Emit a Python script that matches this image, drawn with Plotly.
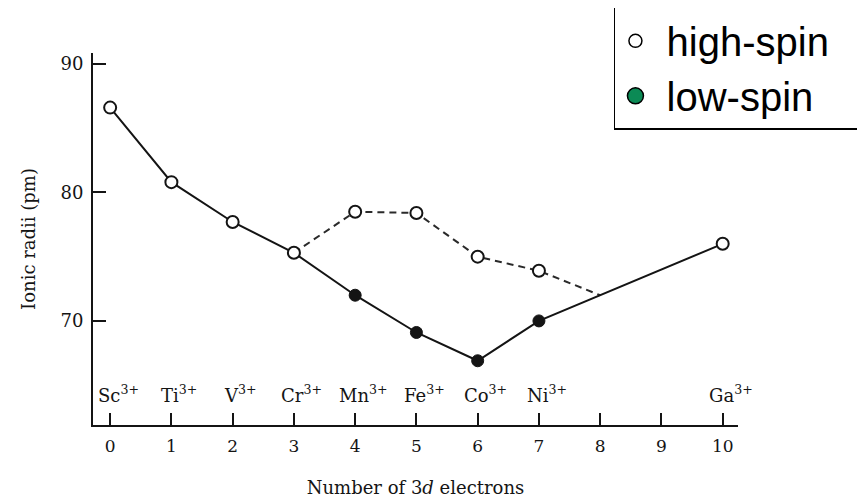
import plotly.graph_objects as go

# ---- data ----
ions = ["Sc", "Ti", "V", "Cr", "Mn", "Fe", "Co", "Ni", "Ga"]
n_3d = [0, 1, 2, 3, 4, 5, 6, 7, 10]
high_spin = [86.6, 80.8, 77.7, 75.3, 78.5, 78.4, 75.0, 73.9, 76.0]
low_spin = [None, None, None, None, 72.0, 69.1, 66.9, 70.0, None]
# dashed high-spin trend ends where it meets the solid curve
dash_end_x = [8]
dash_end_y = [72.0]
x_ticks = [0, 1, 2, 3, 4, 5, 6, 7, 8, 9, 10]
y_ticks = [70, 80, 90]

# solid curve: high-spin up to d3, low-spin d4-d7, then Ga
solid_x, solid_y = [], []
for d, hs, ls in zip(n_3d, high_spin, low_spin):
    solid_x.append(d)
    solid_y.append(ls if ls is not None else hs)

# dashed curve: from Cr (d3) through high-spin d4..d7 to the junction
dash_x = [d for d, ls in zip(n_3d, low_spin) if ls is not None]
dash_y = [hs for hs, ls in zip(high_spin, low_spin) if ls is not None]
dash_x = [n_3d[3]] + dash_x + dash_end_x
dash_y = [high_spin[3]] + dash_y + dash_end_y

ls_x = [d for d, ls in zip(n_3d, low_spin) if ls is not None]
ls_y = [ls for ls in low_spin if ls is not None]

INK = "#141414"
SERIF = "DejaVu Serif"

fig = go.Figure()
fig.add_trace(go.Scatter(x=dash_x, y=dash_y, mode="lines",
                         line=dict(color="#2a2a2a", width=2, dash="7px,5px"),
                         showlegend=False, hoverinfo="skip"))
fig.add_trace(go.Scatter(x=solid_x, y=solid_y, mode="lines",
                         line=dict(color=INK, width=2),
                         showlegend=False, hoverinfo="skip"))
fig.add_trace(go.Scatter(x=n_3d, y=high_spin, mode="markers",
                         marker=dict(symbol="circle", size=12, color="white",
                                     line=dict(color=INK, width=2)),
                         showlegend=False))
fig.add_trace(go.Scatter(x=ls_x, y=ls_y, mode="markers",
                         marker=dict(symbol="circle", size=12, color=INK,
                                     line=dict(color=INK, width=1)),
                         showlegend=False))

# legend entries
NB = "\u00a0"
fig.add_trace(go.Scatter(x=[None], y=[None], mode="markers",
                         name=NB + "high-spin" + NB * 3,
                         marker=dict(symbol="circle", size=13, color="white",
                                     line=dict(color="black", width=1.5))))
fig.add_trace(go.Scatter(x=[None], y=[None], mode="markers",
                         name=NB + "low-spin",
                         marker=dict(symbol="circle", size=16, color="#0b8a55",
                                     line=dict(color="black", width=1.5))))

# ion labels above the x axis
for d, ion in zip(n_3d, ions):
    fig.add_annotation(x=d, y=64.3, text=f"{ion}<sup>3+</sup>", showarrow=False,
                       xanchor="center", yanchor="middle", xshift=8,
                       font=dict(family=SERIF, size=18, color=INK))

# the page body adds an 8px offset, so the figure is 8px smaller on each axis
fig.update_layout(
    width=857, height=490,
    margin=dict(l=85, r=127, t=45, b=73, autoexpand=False),
    paper_bgcolor="white", plot_bgcolor="white",
    showlegend=True,
    legend=dict(x=1.203, xanchor="right", y=1.124, yanchor="top",
                bordercolor="black", borderwidth=1.5, bgcolor="white",
                font=dict(family="Liberation Sans", size=40, color="black"),
                itemsizing="trace", tracegroupgap=0),
    xaxis=dict(range=[-0.28, 10.25], tickvals=x_ticks, ticks="inside", ticklen=12,
               tickwidth=2, tickcolor=INK, showline=True, linecolor=INK, linewidth=2,
               showgrid=False, zeroline=False, ticklabelstandoff=5,
               tickfont=dict(family=SERIF, size=17, color=INK),
               title=dict(text="Number of 3<i>d</i> electrons", standoff=26,
                          font=dict(family=SERIF, size=18, color=INK))),
    yaxis=dict(range=[61.9, 90.85], tickvals=y_ticks, ticks="inside", ticklen=13,
               tickwidth=2, tickcolor=INK, showline=True, linecolor=INK, linewidth=2,
               showgrid=False, zeroline=False, ticklabelstandoff=4,
               tickfont=dict(family=SERIF, size=18, color=INK),
               title=dict(text="Ionic radii (pm)", standoff=20,
                          font=dict(family=SERIF, size=18, color=INK))),
)

fig.write_html("out.html")
